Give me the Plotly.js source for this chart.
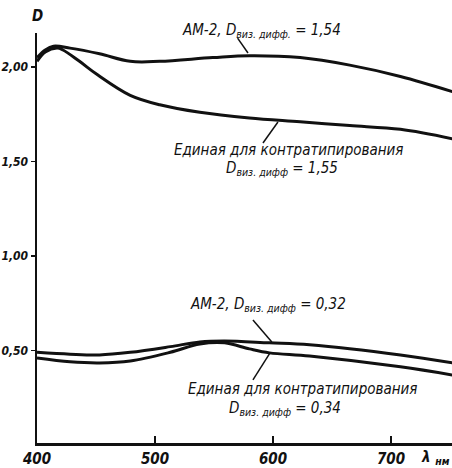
<!DOCTYPE html>
<html>
<head>
<meta charset="utf-8">
<script src="https://cdn.plot.ly/plotly-3.0.1.min.js"></script>
<style>
  html, body { margin: 0; padding: 0; background: #fff; }
  #chart { width: 452px; height: 468px; }
</style>
</head>
<body>
<div id="chart"></div>
<script>
// Spectral density curves D(λ), wavelength in nm
const wlAmHigh = [400, 407, 414, 428, 453, 479, 504, 549, 580, 623, 665, 708, 752];
const dAmHigh  = [2.05, 2.09, 2.11, 2.10, 2.07, 2.03, 2.03, 2.05, 2.06, 2.05, 2.01, 1.95, 1.87];

const wlUniHigh = [400, 407, 417, 422, 436, 451, 479, 504, 538, 580, 623, 665, 708, 752];
const dUniHigh  = [2.03, 2.08, 2.10, 2.09, 2.03, 1.96, 1.85, 1.80, 1.76, 1.73, 1.71, 1.69, 1.67, 1.62];

const wlAmLow = [400, 428, 453, 479, 513, 538, 559, 597, 631, 708, 752];
const dAmLow  = [0.49, 0.48, 0.476, 0.49, 0.52, 0.545, 0.55, 0.54, 0.53, 0.476, 0.434];

const wlUniLow = [400, 428, 453, 479, 513, 538, 559, 580, 597, 631, 708, 752];
const dUniLow  = [0.46, 0.44, 0.434, 0.444, 0.49, 0.534, 0.54, 0.508, 0.487, 0.47, 0.413, 0.37];

const xTickVals = [400, 500, 600, 700];
const xTickText = ['400', '500', '600', '700'];
const yTickVals = [0.5, 1.0, 1.5, 2.0];
const yTickText = ['0,50', '1,00', '1,50', '2,00'];

const FONT = 'DejaVu Sans Condensed, sans-serif';
const INK = '#111';

function curve(x, y) {
  return {
    x: x, y: y, type: 'scatter', mode: 'lines',
    line: { color: INK, width: 3, shape: 'spline', smoothing: 1.0 },
    hoverinfo: 'skip', showlegend: false, cliponaxis: true
  };
}

const traces = [
  curve(wlAmHigh, dAmHigh),
  curve(wlUniHigh, dUniHigh),
  curve(wlAmLow, dAmLow),
  curve(wlUniLow, dUniLow)
];

function label(x, y, text, yref) {
  return {
    x: x, y: y, xref: 'x', yref: yref || 'y', text: text, showarrow: false,
    xanchor: 'center', yanchor: 'middle',
    font: { family: FONT, size: 15, color: INK, style: 'italic' }
  };
}

const sub = 'виз. дифф';

const annotations = [
  label(590, 1.005, 'АМ-2, D<sub>' + sub + '.</sub> = 1,54', 'paper'),
  label(613, 1.562, 'Единая для контратипирования'),
  label(608, 1.465, 'D<sub>' + sub + '</sub> = 1,55'),
  label(596, 0.741, 'АМ-2, D<sub>' + sub + '</sub> = 0,32'),
  label(625, 0.295, 'Единая для контратипирования'),
  label(610, 0.195, 'D<sub>' + sub + '</sub> = 0,34'),
  {
    x: 0, y: 1, xref: 'paper', yref: 'paper', xanchor: 'center', yanchor: 'bottom',
    yshift: 6, text: 'D', showarrow: false,
    font: { family: FONT, size: 15, color: INK, style: 'italic', weight: 'bold' }
  },
  {
    x: 738, y: 0, xref: 'x', yref: 'paper', xanchor: 'center', yanchor: 'top',
    yshift: -3, text: 'λ <sub>нм</sub>', showarrow: false,
    font: { family: FONT, size: 15, color: INK, style: 'italic', weight: 'bold' }
  }
];

function leader(x0, y0, x1, y1) {
  return { type: 'line', xref: 'x', yref: 'y', x0: x0, y0: y0, x1: x1, y1: y1,
           line: { color: INK, width: 1.5 } };
}

const shapes = [
  leader(570, 2.153, 578.8, 2.074),
  leader(591.5, 1.598, 604.2, 1.709),
  leader(583, 0.661, 599, 0.545),
  leader(583, 0.344, 597.5, 0.487)
];

const layout = {
  width: 452, height: 468,
  margin: { l: 37, r: 0, t: 33, b: 25, pad: 0 },
  paper_bgcolor: '#fff', plot_bgcolor: '#fff',
  showlegend: false,
  xaxis: {
    range: [400, 751.7], showgrid: false, zeroline: false,
    showline: true, linecolor: INK, linewidth: 2.5,
    ticks: 'inside', ticklen: 7, tickwidth: 1.5, tickcolor: INK,
    tickvals: xTickVals, ticktext: xTickText,
    tickfont: { family: FONT, size: 15, color: INK, style: 'italic', weight: 'bold' }
  },
  yaxis: {
    range: [0.01, 2.18], showgrid: false, zeroline: false,
    showline: true, linecolor: INK, linewidth: 2.5,
    ticks: 'outside', ticklen: 4, tickwidth: 1.5, tickcolor: INK,
    tickvals: yTickVals, ticktext: yTickText,
    tickfont: { family: FONT, size: 12, color: INK, style: 'italic', weight: 'bold' }
  },
  annotations: annotations,
  shapes: shapes
};

Plotly.newPlot('chart', traces, layout, { staticPlot: true, displayModeBar: false });
</script>
</body>
</html>
